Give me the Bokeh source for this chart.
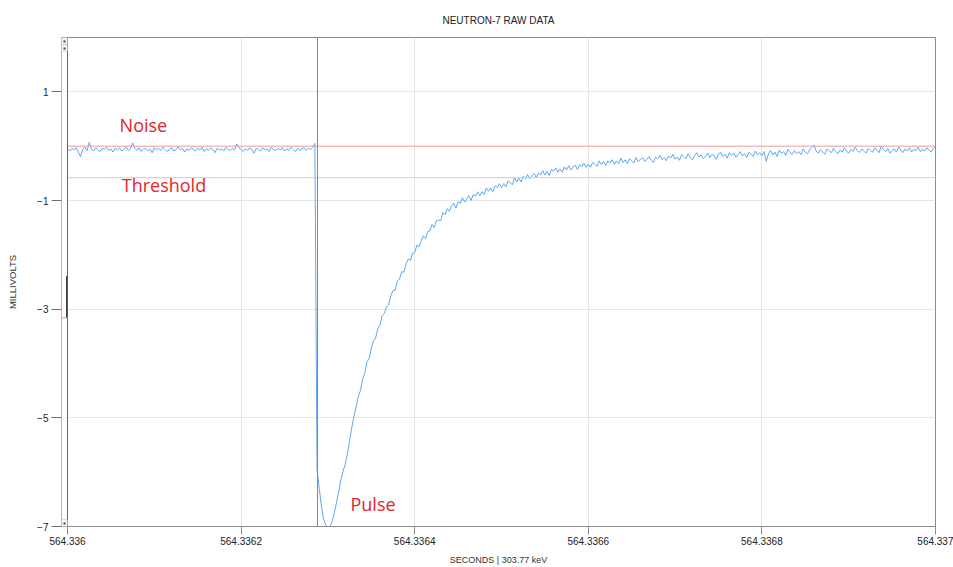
import numpy as np
from bokeh.plotting import figure
from bokeh.models import Range1d, FixedTicker, Span, Label, BoxAnnotation
from bokeh.embed import file_html
from bokeh.resources import INLINE

# ---------------------------------------------------------------------------
# Captured trace: channel NEUTRON-7, 1 ms window starting at T0_S seconds.
# Samples are in millivolts, one every STEP_US microseconds, stored in
# consecutive segments that each know their own start time.
# ---------------------------------------------------------------------------
TITLE = "NEUTRON-7 RAW DATA"
X_LABEL = "SECONDS | 303.77 keV"
Y_LABEL = "MILLIVOLTS"

T0_S = 564.336
WINDOW_US = 1000.0
STEP_US = 2.5

BASELINE_START_US = 0.0
baseline_mv = [
    -0.05, -0.09, -0.04, -0.07, -0.03, -0.11, -0.19, -0.06, -0.02, -0.08,
    0.07, -0.05, -0.09, -0.03, -0.07, -0.10, -0.04, -0.06, -0.02, -0.08,
    -0.05, -0.11, -0.04, -0.07, -0.03, -0.09, -0.06, -0.02, -0.08, -0.05,
    0.06, -0.04, -0.08, -0.03, -0.10, -0.06, -0.04, -0.09, -0.05, -0.12,
    -0.03, -0.07, -0.04, -0.08, -0.02, -0.06, -0.10, -0.05, -0.03, -0.09,
    -0.06, -0.01, -0.07, -0.04, -0.11, -0.05, -0.08, -0.03, -0.06, -0.09,
    -0.04, -0.07, -0.02, -0.10, -0.05, -0.08, -0.03, -0.06, -0.12, -0.04,
    -0.07, -0.05, -0.09, -0.02, -0.06, -0.08, -0.04, -0.07, 0.04, -0.03,
    -0.06, -0.10, -0.05, -0.08, -0.03, -0.07, -0.13, -0.04, -0.06, -0.09,
    -0.03, -0.07, -0.05, -0.10, -0.02, -0.06, -0.08, -0.04, -0.07, -0.03,
    -0.09, -0.05, -0.08, -0.02, -0.06, -0.10, -0.04, -0.07, -0.05, -0.03,
    -0.08, -0.04, -0.06, -0.02, 0.05,
]

PULSE_START_US = 287.5
pulse_mv = [
    -5.95, -6.30, -6.62, -6.86, -6.97, -7.01, -7.00, -6.90, -6.74, -6.55,
    -6.36, -6.14, -5.98, -5.85, -5.66, -5.42, -5.18, -4.97, -4.80,
]

RECOVERY_START_US = 335.0
recovery_mv = [
    -4.61, -4.50, -4.29, -4.18, -3.97, -3.91, -3.72, -3.58, -3.53, -3.36,
    -3.29, -3.12, -3.08, -2.96, -2.92, -2.75, -2.66, -2.65, -2.48, -2.45,
    -2.31, -2.32, -2.17, -2.08, -2.10, -1.97, -1.96, -1.82, -1.85, -1.74,
    -1.65, -1.70, -1.57, -1.56, -1.44, -1.50, -1.37, -1.36, -1.37, -1.22,
    -1.26, -1.15, -1.20, -1.10, -1.05, -1.14, -1.02, -1.05, -0.95, -1.03,
    -0.97, -0.91, -1.00, -0.89, -0.92, -0.84, -0.91, -0.84, -0.89, -0.77,
    -0.83, -0.77, -0.84, -0.73, -0.76, -0.69, -0.76, -0.69, -0.75, -0.64,
    -0.67, -0.71, -0.58, -0.66, -0.59, -0.66, -0.55, -0.60, -0.52, -0.60,
    -0.54, -0.50, -0.58, -0.49, -0.53, -0.45, -0.53, -0.46, -0.54, -0.43,
    -0.46, -0.40, -0.48, -0.42, -0.48, -0.38, -0.44, -0.36, -0.44, -0.38,
    -0.35, -0.43, -0.34, -0.38, -0.31, -0.39, -0.33, -0.39, -0.30, -0.33,
    -0.37, -0.27, -0.34, -0.28, -0.36, -0.27, -0.31, -0.25, -0.34, -0.27,
    -0.32, -0.22, -0.30, -0.25, -0.32, -0.23, -0.27, -0.31, -0.21, -0.29,
    -0.24,
]

TAIL_START_US = 662.5
tail_mv = [
    -0.21, -0.28, -0.24, -0.19, -0.26, -0.30, -0.20, -0.23, -0.17, -0.25,
    -0.21, -0.27, -0.18, -0.22, -0.15, -0.24, -0.20, -0.26, -0.16, -0.19,
    -0.23, -0.14, -0.21, -0.25, -0.17, -0.12, -0.20, -0.16, -0.23, -0.19,
    -0.13, -0.21, -0.15, -0.18, -0.24, -0.14, -0.11, -0.19, -0.15, -0.22,
    -0.12, -0.17, -0.13, -0.20, -0.16, -0.10, -0.18, -0.14, -0.21, -0.11,
    -0.15, -0.19, -0.09, -0.16, -0.12, -0.18, -0.10, -0.28, -0.14, -0.08,
    -0.16, -0.11, -0.19, -0.07, -0.13, -0.10, -0.17, -0.06, -0.12, -0.15,
    -0.08, -0.14, -0.10, -0.16, -0.05, -0.11, -0.14, -0.07, -0.02, 0.02,
    -0.09, -0.13, -0.06, -0.11, -0.15, -0.05, -0.09, -0.12, -0.04, -0.10,
    -0.14, -0.07, -0.11, -0.03, -0.09, -0.13, -0.06, -0.10, -0.02, -0.08,
    -0.12, -0.05, -0.09, -0.13, -0.04, -0.08, -0.11, -0.03, -0.07, -0.12,
    0.00, -0.06, -0.10, -0.04, -0.13, -0.08, -0.05, -0.11, -0.02, -0.07,
    -0.12, -0.05, -0.09, -0.03, -0.11, -0.06, -0.08, -0.02, -0.10, -0.05,
    -0.09, -0.03, -0.07, -0.11, -0.04, -0.01,
]

NOISE_LEVEL_MV = 0.0
THRESHOLD_MV = -0.58
TRIGGER_US = 288.0

XTICKS_US = [0, 200, 400, 600, 800, 1000]
YTICKS_MV = [-7, -5, -3, -1, 1]
Y_MIN, Y_MAX = -7.0, 2.0

# ---------------------------------------------------------------------------
segments = [
    (BASELINE_START_US, baseline_mv),
    (PULSE_START_US, pulse_mv),
    (RECOVERY_START_US, recovery_mv),
    (TAIL_START_US, tail_mv),
]
t_us = np.concatenate([start + STEP_US * np.arange(len(v)) for start, v in segments])
v_mv = np.concatenate([np.asarray(v, dtype=float) for _, v in segments])

# canvas geometry
W, H = 953, 567
BORDER_L, BORDER_R, BORDER_T, BORDER_B = 61, 18, 37, 40
STRIP_PX = 6  # narrow scroll strip between y axis and data area
frame_w = W - BORDER_L - BORDER_R
frame_h = H - BORDER_T - BORDER_B
px_per_us = (frame_w - STRIP_PX) / WINDOW_US
x_start = -STRIP_PX / px_per_us
px_per_mv = frame_h / (Y_MAX - Y_MIN)

p = figure(width=W, height=H, output_backend="svg", toolbar_location=None,
           x_range=Range1d(x_start, WINDOW_US), y_range=Range1d(Y_MIN, Y_MAX),
           min_border_left=BORDER_L, min_border_right=BORDER_R,
           min_border_top=BORDER_T, min_border_bottom=BORDER_B,
           title=TITLE)
p.background_fill_color = "white"
p.border_fill_color = "white"
p.outline_line_color = "#8c8c8c"
p.outline_line_width = 1

TICK_FONT = "Liberation Sans"

p.title.align = "center"
p.title.text_font = TICK_FONT
p.title.text_font_size = "10px"
p.title.text_font_style = "normal"
p.title.text_color = "#222222"
p.title.standoff = 24

# x axis
p.xaxis.ticker = FixedTicker(ticks=XTICKS_US)
p.xaxis.major_label_overrides = {
    us: f"{T0_S + us * 1e-6:.7f}".rstrip("0") for us in XTICKS_US
}
p.xaxis.axis_label = X_LABEL
p.xaxis.axis_label_text_font = TICK_FONT
p.xaxis.axis_label_text_font_size = "9px"
p.xaxis.axis_label_text_font_style = "normal"
p.xaxis.axis_label_text_color = "#333333"
p.xaxis.axis_label_standoff = 7
p.xaxis.major_label_text_font = TICK_FONT
p.xaxis.major_label_text_font_size = "10px"
p.xaxis.major_label_text_color = "#222222"
p.xaxis.major_label_standoff = 2
p.xaxis.major_tick_out = 8
p.xaxis.major_tick_in = 0
p.xaxis.minor_tick_line_color = None
p.xaxis.axis_line_color = "#8c8c8c"
p.xaxis.major_tick_line_color = "#8c8c8c"

# y axis
p.yaxis.ticker = FixedTicker(ticks=YTICKS_MV)
p.yaxis.axis_label = Y_LABEL
p.yaxis.axis_label_text_font = TICK_FONT
p.yaxis.axis_label_text_font_size = "9.5px"
p.yaxis.axis_label_text_font_style = "normal"
p.yaxis.axis_label_text_color = "#333333"
p.yaxis.axis_label_standoff = 16
p.yaxis.major_label_text_font = TICK_FONT
p.yaxis.major_label_text_font_size = "10px"
p.yaxis.major_label_text_color = "#222222"
p.yaxis.major_label_standoff = 3
p.yaxis.major_tick_out = 10
p.yaxis.major_tick_in = 0
p.yaxis.minor_tick_line_color = None
p.yaxis.axis_line_color = "#a0a0a0"
p.yaxis.major_tick_line_color = "#707070"

p.xgrid.grid_line_color = "#e6e6e6"
p.ygrid.grid_line_color = "#e6e6e6"

# reference levels and trigger marker
p.add_layout(Span(location=THRESHOLD_MV, dimension="width",
                  line_color="#cfcfcf", line_width=1))
p.add_layout(Span(location=NOISE_LEVEL_MV, dimension="width",
                  line_color="#f09a9a", line_width=1))
p.add_layout(Span(location=TRIGGER_US, dimension="height",
                  line_color="#e06060", line_width=1))

# raw trace
p.line(t_us, v_mv, line_color="#59a9f6", line_width=1)

# scroll strip on the left edge of the plot area
p.add_layout(BoxAnnotation(left=x_start, right=0, fill_color="white",
                           fill_alpha=1, line_color=None))
p.add_layout(Span(location=0, dimension="height", line_color="#666666",
                  line_width=1))


def mv_at_px(py):
    return Y_MAX - (py - BORDER_T) / px_per_mv


def us_at_px(px):
    return (px - BORDER_L) / px_per_us + x_start


for top_px in (37, 44, 520):
    p.add_layout(BoxAnnotation(left=x_start, right=0, top=mv_at_px(top_px),
                               bottom=mv_at_px(top_px + 7), fill_color="#f4f4f4",
                               fill_alpha=1, line_color="#9a9a9a", line_width=1))
    p.add_layout(BoxAnnotation(left=us_at_px(63), right=us_at_px(65),
                               top=mv_at_px(top_px + 3), bottom=mv_at_px(top_px + 5),
                               fill_color="#444444", fill_alpha=1, line_color=None))
p.add_layout(BoxAnnotation(left=us_at_px(65.5), right=0, top=mv_at_px(276),
                           bottom=mv_at_px(318), fill_color="#444444", fill_alpha=1,
                           line_color=None))
p.add_layout(BoxAnnotation(left=x_start, right=0, top=mv_at_px(317.5),
                           bottom=mv_at_px(318.5), fill_color="#b0b0b0", fill_alpha=1,
                           line_color=None))

# callouts
CALLOUT = dict(text_font="Open Sans", text_font_size="18px", text_color="#e3242b")
p.add_layout(Label(x=60, y=NOISE_LEVEL_MV, y_offset=9, text="Noise", **CALLOUT))
p.add_layout(Label(x=62.5, y=THRESHOLD_MV, y_offset=-19, text="Threshold", **CALLOUT))
p.add_layout(Label(x=326, y=float(np.min(v_mv)), y_offset=11, text="Pulse", **CALLOUT))

open("out.html", "w").write(file_html(p, INLINE))
